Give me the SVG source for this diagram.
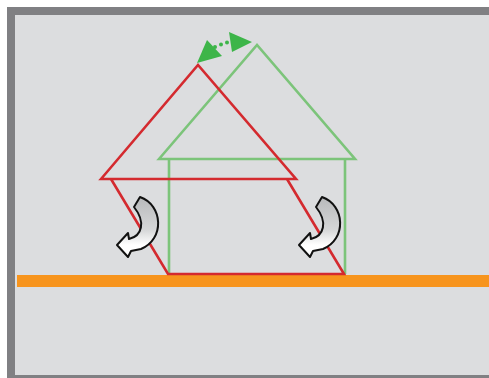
<svg xmlns="http://www.w3.org/2000/svg" width="489" height="378" viewBox="0 0 489 378">
<defs>
<style>
.red{fill:none;stroke:#d42a2f;stroke-width:2.6;stroke-linejoin:miter}
.grn{fill:none;stroke:#7cc47a;stroke-width:2.6}
.curl{fill:url(#cg);stroke:#111;stroke-width:2;stroke-linejoin:round}
.ga{fill:#3db549}
</style>
<linearGradient id="cg" x1="0" y1="0" x2="0" y2="1">
<stop offset="0" stop-color="#b8b9bb"/>
<stop offset="0.55" stop-color="#d6d7d8"/>
<stop offset="0.8" stop-color="#ffffff"/>
<stop offset="1" stop-color="#ffffff"/>
</linearGradient>
<path id="curl" d="M134,207 L140,197 C163,205 165,239 141,249 L131,251 L128,257 L117,245 L128,233 L129,239 C142,236 146,222 134,207 Z"/>
</defs>
<rect x="0" y="0" width="489" height="378" fill="#ffffff"/>
<rect id="frame" x="11" y="11" width="490" height="368" fill="#dcdddf" stroke="#808083" stroke-width="8"/>
<rect id="ground" x="17" y="275" width="472" height="12" fill="#f7941d"/>
<g id="green-house">
<polygon class="grn" points="159,159 257,45 355,159"/>
<polyline class="grn" points="169,159 169,274"/>
<polyline class="grn" points="345,159 345,274"/>
</g>
<g id="red-house">
<polygon class="red" points="101,179 198,65 296,179"/>
<polyline class="red" points="111,179 168,274 344,274 287,179"/>
</g>
<g id="connectors">
<polygon class="ga" points="197,63 207,40 222,56"/>
<polygon class="ga" points="252,42 229,32 232,52"/>
<circle class="ga" cx="215" cy="47" r="2"/>
<circle class="ga" cx="221" cy="44.5" r="2"/>
<circle class="ga" cx="227" cy="42.5" r="2"/>
<use href="#curl" class="curl"/>
<use href="#curl" class="curl" transform="translate(182,0)"/>
</g>
</svg>
